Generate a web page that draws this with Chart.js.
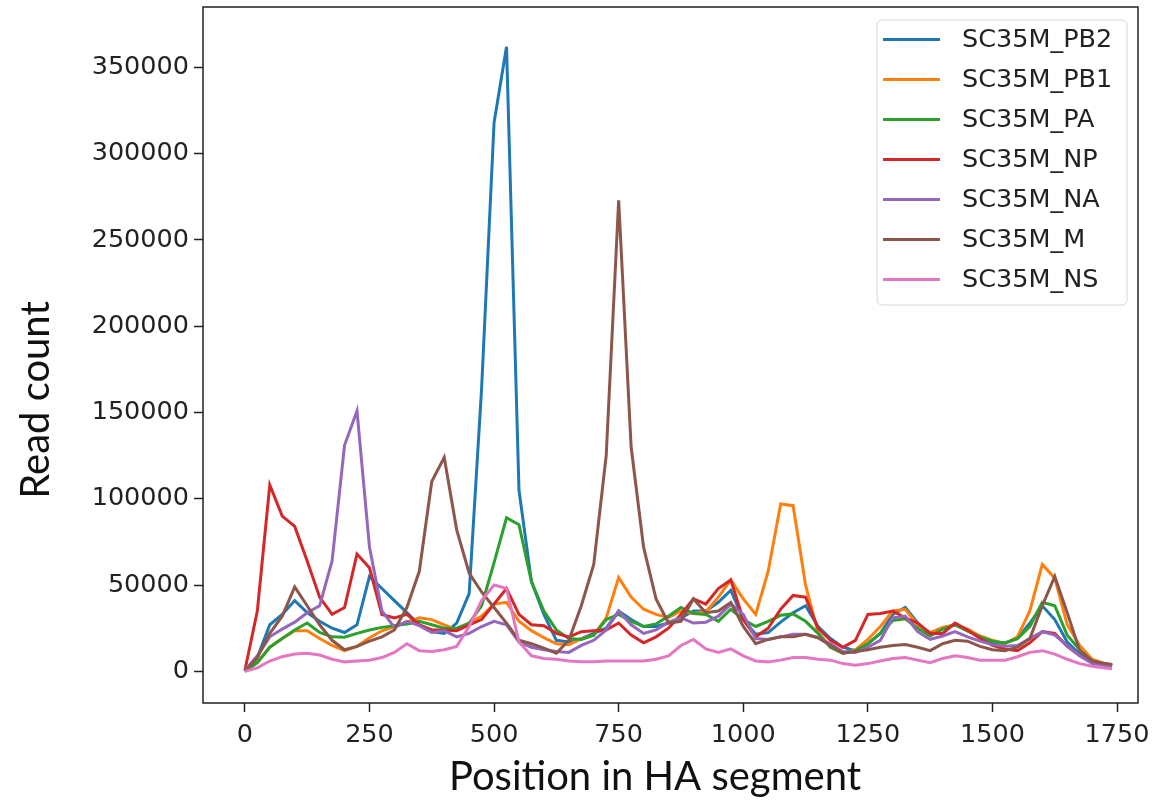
<!DOCTYPE html>
<html>
<head>
<meta charset="utf-8">
<style>
  html, body { margin: 0; padding: 0; background: #fff; }
  #wrap { width: 1161px; height: 806px; }
</style>
<script src="https://cdn.jsdelivr.net/npm/chart.js@4.4.0/dist/chart.umd.min.js"></script>
</head>
<body>
<div id="wrap"><canvas id="coverageChart" width="1161" height="806"></canvas></div>
<script>
// positions along the HA segment (read every 25 nt)
const positions = [
    0, 25, 50, 75, 100, 125, 150, 175, 200, 225,
    250, 275, 300, 325, 350, 375, 400, 425, 450, 475,
    500, 525, 550, 575, 600, 625, 650, 675, 700, 725,
    750, 775, 800, 825, 850, 875, 900, 925, 950, 975,
    1000, 1025, 1050, 1075, 1100, 1125, 1150, 1175, 1200, 1225,
    1250, 1275, 1300, 1325, 1350, 1375, 1400, 1425, 1450, 1475,
    1500, 1525, 1550, 1575, 1600, 1625, 1650, 1675, 1700, 1725,
    1740
];

const seriesNames = ['SC35M_PB2', 'SC35M_PB1', 'SC35M_PA', 'SC35M_NP', 'SC35M_NA', 'SC35M_M', 'SC35M_NS'];
const seriesColors = ['#1f77b4', '#ff7f0e', '#2ca02c', '#d62728', '#9467bd', '#8c564b', '#e377c2'];

const pb2 = [
    0, 8000, 27000, 33000, 41000, 34000, 29000, 25000, 22500, 27000,
    55000, 48000, 41000, 34000, 27000, 23000, 22000, 28000, 45000, 164000,
    318000, 362000, 105000, 52000, 33000, 18000, 17000, 19000, 22000, 25000,
    35000, 30000, 26000, 26000, 28000, 31000, 35000, 35000, 40000, 47000,
    30000, 21500, 22500, 28500, 34000, 38000, 26000, 19000, 14000, 12000,
    16000, 22000, 33000, 37000, 28000, 21500, 25000, 27000, 23500, 20500,
    16500, 16500, 19000, 28000, 38000, 30000, 17000, 10000, 6000, 4500,
    3500
];
const pb1 = [
    0, 5000, 14000, 19000, 23500, 23500, 19000, 15000, 12000, 14500,
    19500, 23500, 26000, 28500, 31000, 30000, 27000, 24000, 28000, 32000,
    39000, 40000, 29000, 23600, 19500, 16000, 15500, 19000, 21000, 31000,
    54400, 43000, 36000, 33000, 31300, 35000, 33500, 34500, 43000, 53000,
    42000, 33000, 58000, 97000, 96000, 50000, 22500, 14000, 10500, 12500,
    18500, 26000, 35000, 36000, 27000, 22500, 25500, 27000, 24500, 20500,
    18000, 16000, 20000, 35000, 62000, 54000, 27000, 15000, 7000, 4500,
    3500
];
const pa = [
    0, 5000, 14000, 19000, 24000, 28000, 22500, 20000, 19800, 22000,
    24000, 25500, 26500, 27500, 29000, 27000, 25000, 25000, 28000, 38000,
    63000, 89000, 85000, 52000, 35000, 24000, 19000, 18500, 21000, 30000,
    33000, 29000, 26000, 27500, 32000, 37000, 33500, 33000, 29000, 36000,
    30000, 26000, 29000, 32500, 33300, 29000, 22000, 14000, 10500, 12000,
    16000, 22000, 29400, 30500, 25000, 20500, 24500, 27000, 23500, 20000,
    17500, 16500, 19000, 26000, 40000, 38000, 21000, 12500, 6000, 4500,
    3500
];
const np = [
    500, 35000, 108000, 90000, 84000, 64000, 43000, 33000, 37000, 68000,
    60000, 33000, 31000, 33000, 27000, 24000, 24000, 23600, 27000, 30000,
    39000, 48000, 33000, 27000, 26500, 22000, 20000, 23000, 23600, 24000,
    28000, 21000, 16500, 20000, 25000, 33000, 42000, 39000, 48000, 53000,
    30000, 20000, 25000, 36000, 44000, 43000, 25000, 18000, 14000, 18000,
    33000, 33500, 35000, 31000, 28000, 22000, 22000, 28000, 24000, 19000,
    15000, 13000, 12000, 16500, 23000, 22000, 14500, 9000, 5500, 4500,
    3500
];
const na = [
    500, 9000, 20000, 24500, 28500, 34000, 38000, 64000, 131000, 151000,
    72000, 35000, 25500, 29000, 26500, 22500, 23600, 20000, 22000, 26000,
    29000, 27000, 17000, 14000, 12500, 11500, 11000, 15000, 18000, 24000,
    35000, 27000, 22000, 24000, 28500, 31000, 28000, 28500, 32000, 39000,
    33000, 19000, 18500, 20000, 21500, 21500, 19500, 16000, 11500, 11000,
    14000, 18000, 31000, 32000, 23000, 18500, 20500, 23000, 20000, 17500,
    15500, 14500, 15000, 19000, 23000, 21000, 15000, 9000, 4500, 3500,
    2500
];
const m = [
    0, 8000, 22000, 32000, 49000, 38000, 27000, 18000, 12500, 14500,
    17500, 20000, 24000, 37000, 58000, 110000, 124000, 82000, 57000, 46000,
    37000, 28000, 18000, 16000, 13500, 10500, 18000, 38000, 62000, 125000,
    273000, 130000, 72000, 42000, 28000, 29000, 42000, 34000, 35000, 40000,
    26000, 16000, 18500, 20000, 20000, 21500, 19500, 15000, 10500, 11500,
    12500, 14000, 15000, 15500, 14000, 12000, 16000, 18000, 17500, 14500,
    12500, 12000, 14000, 19000, 38000, 55000, 34000, 12000, 6000, 4500,
    4000
];
const ns = [
    0, 2000, 6000, 8500, 10000, 10500, 9500, 7000, 5500, 6000,
    6500, 8000, 11000, 16000, 12000, 11500, 12500, 14500, 26000, 41000,
    50000, 48000, 17000, 9000, 7500, 7000, 6000, 5500, 5500, 6000,
    6000, 6000, 6000, 7000, 9000, 15000, 18500, 13000, 11000, 13000,
    9000, 6000, 5500, 6500, 8000, 8000, 7000, 6500, 4500, 3500,
    4500, 6000, 7500, 8000, 6500, 5000, 7500, 9000, 8000, 6500,
    6500, 6500, 8500, 11000, 12000, 10000, 7000, 4500, 3000, 2000,
    1500
];

const xTicks = [0, 250, 500, 750, 1000, 1250, 1500, 1750];
const yTicks = [0, 50000, 100000, 150000, 200000, 250000, 300000, 350000];
const xTitle = 'Position in HA segment';
const yTitle = 'Read count';

const allSeries = [pb2, pb1, pa, np, na, m, ns];

// frame, axis titles and legend box, drawn like matplotlib
const framePlugin = {
    id: 'frameAndLegend',
    afterDraw(chart) {
        const ctx = chart.ctx;
        const ca = chart.chartArea;
        ctx.save();
        ctx.strokeStyle = '#222';
        ctx.lineWidth = 1.5;
        ctx.strokeRect(ca.left, ca.top, ca.right - ca.left, ca.bottom - ca.top);

        // axis titles
        ctx.fillStyle = '#111';
        ctx.font = '40px Lato';
        ctx.textAlign = 'center';
        ctx.textBaseline = 'middle';
        ctx.fillText(xTitle, 655, 777);
        ctx.save();
        ctx.translate(36, 400);
        ctx.rotate(-Math.PI / 2);
        ctx.fillText(yTitle, 0, 0);
        ctx.restore();

        // legend
        const boxW = 250, boxH = 285;
        const bx = ca.right - 11 - boxW, by = ca.top + 13;
        ctx.beginPath();
        ctx.roundRect(bx, by, boxW, boxH, 5);
        ctx.fillStyle = 'rgba(255,255,255,0.85)';
        ctx.fill();
        ctx.strokeStyle = '#d6d6d6';
        ctx.lineWidth = 1;
        ctx.stroke();

        ctx.font = '25.5px "DejaVu Sans"';
        ctx.textBaseline = 'middle';
        ctx.textAlign = 'left';
        seriesNames.forEach((name, i) => {
            const y = by + 19.5 + i * 40;
            ctx.beginPath();
            ctx.moveTo(bx + 6, y);
            ctx.lineTo(bx + 63, y);
            ctx.strokeStyle = seriesColors[i];
            ctx.lineWidth = 3;
            ctx.stroke();
            ctx.fillStyle = '#222';
            ctx.fillText(name, bx + 85, y + 1);
        });
        ctx.restore();
    }
};

let ctx = document.getElementById('coverageChart').getContext('2d');
let chart = new Chart(ctx, {
    type: 'line',
    data: {
        datasets: seriesNames.map((name, i) => ({
            label: name,
            data: positions.map((p, j) => ({ x: p, y: allSeries[i][j] })),
            borderColor: seriesColors[i],
            backgroundColor: seriesColors[i],
            borderWidth: 3,
            pointRadius: 0,
            fill: false,
            tension: 0,
            order: seriesNames.length - i
        }))
    },
    options: {
        responsive: false,
        animation: false,
        devicePixelRatio: 1,
        layout: { padding: { left: 0, right: 23, top: 7, bottom: 0 } },
        plugins: {
            legend: { display: false },
            tooltip: { enabled: false }
        },
        scales: {
            x: {
                type: 'linear',
                min: -84,
                max: 1792,
                afterBuildTicks: scale => { scale.ticks = xTicks.map(v => ({ value: v })); },
                afterFit: scale => {
                    scale.height = 103;
                    scale.paddingLeft = 0;
                    scale.paddingRight = 0;
                },
                ticks: {
                    color: '#222',
                    font: { family: 'DejaVu Sans', size: 25.5 },
                    padding: 8,
                    maxRotation: 0,
                    callback: v => String(v)
                },
                grid: {
                    drawOnChartArea: false,
                    drawTicks: true,
                    tickLength: 9,
                    tickWidth: 1.5,
                    tickColor: '#222'
                },
                border: { display: false }
            },
            y: {
                min: -18335,
                max: 385000,
                afterBuildTicks: scale => { scale.ticks = yTicks.map(v => ({ value: v })); },
                afterFit: scale => {
                    scale.width = 203;
                    scale.paddingTop = 0;
                    scale.paddingBottom = 0;
                },
                ticks: {
                    color: '#222',
                    font: { family: 'DejaVu Sans', size: 25.5 },
                    padding: 5,
                    callback: v => String(v)
                },
                grid: {
                    drawOnChartArea: false,
                    drawTicks: true,
                    tickLength: 9,
                    tickWidth: 1.5,
                    tickColor: '#222'
                },
                border: { display: false }
            }
        }
    },
    plugins: [framePlugin]
});
</script>
</body>
</html>
